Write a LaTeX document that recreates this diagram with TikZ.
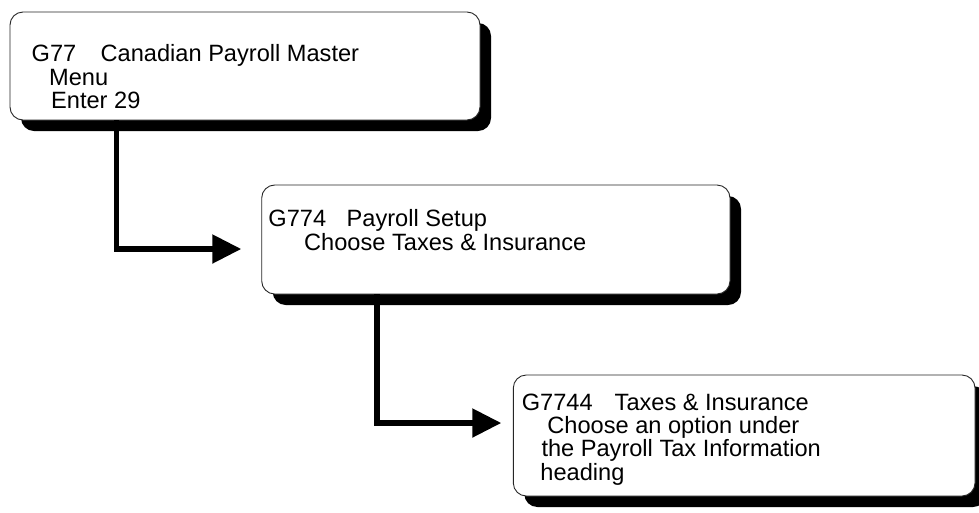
\documentclass[tikz,border=0pt]{standalone}
\usepackage{fontspec}
\setmainfont{Liberation Sans}
\usetikzlibrary{arrows.meta,shadows}
\begin{document}
\begin{tikzpicture}[x=1pt,y=-1pt,
  menubox/.style={draw=black!85, line width=0.9pt, fill=white,
    rounded corners=13pt, inner sep=0pt,
    drop shadow={shadow xshift=11pt, shadow yshift=-11pt, fill=black, opacity=1}},
  lbl/.style={anchor=base west, inner sep=0pt, font=\fontsize{23.6}{23.6}\selectfont},
  link/.style={line width=5.3pt, -{Triangle[length=29pt,width=28pt]}}]
\useasboundingbox (0,0) rectangle (979,512);
\clip (0,0) rectangle (979,512);

% menu boxes
\node[menubox, minimum width=470pt, minimum height=108pt] (m1) at (245,66) {};
\node[menubox, minimum width=468.3pt, minimum height=109pt] (m2) at (495.85,239.5) {};
\node[menubox, minimum width=461.7pt, minimum height=121pt] (m3) at (744.15,435.5) {};

% box texts
\node[lbl] (m1a) at (31.5,61.7) {\makebox[69pt][l]{G77}Canadian Payroll Master};
\node[lbl] (m1b) at (49,85) {Menu};
\node[lbl] (m1c) at (51,108.3) {Enter 29};

\node[lbl] (m2a) at (268.2,226.7) {\makebox[78.3pt][l]{G774}Payroll Setup};
\node[lbl] (m2b) at (304,250) {Choose Taxes \& Insurance};

\node[lbl] (m3a) at (521.6,410) {\makebox[92.9pt][l]{G7744}Taxes \& Insurance};
\node[lbl] (m3b) at (547.2,433.3) {Choose an option under};
\node[lbl] (m3c) at (541.3,456.7) {the Payroll Tax Information};
\node[lbl] (m3d) at (540.2,480) {heading};

% connectors
\draw[link] ([xshift=107pt]m1.south west) |- ([xshift=-20pt,yshift=-9.5pt]m2.west);
\draw[link] ([xshift=115.8pt]m2.south west) |- ([xshift=-11.6pt,yshift=12.5pt]m3.west);
\end{tikzpicture}
\end{document}
